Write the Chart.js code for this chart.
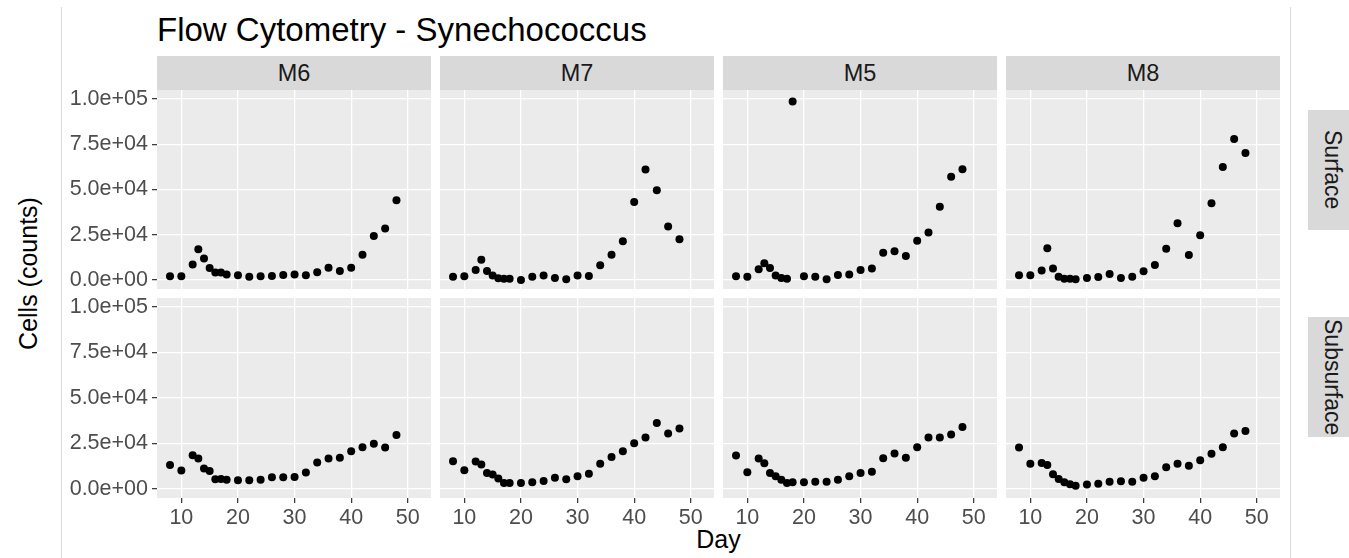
<!DOCTYPE html>
<html>
<head>
<meta charset="utf-8">
<title>Flow Cytometry - Synechococcus</title>
<script src="https://cdn.jsdelivr.net/npm/chart.js@4.4.0/dist/chart.umd.min.js"></script>
<style>
  body { margin: 0; width: 1349px; height: 558px; background: #fff; overflow: hidden; position: relative;
         font-family: "Liberation Sans", Arial, sans-serif; }
  .vline { position: absolute; top: 7px; bottom: 0; width: 1px; background: #dadada; }
  .strip { position: absolute; background: #d9d9d9; color: #1a1a1a; font-size: 23.5px;
           display: flex; align-items: center; justify-content: center; }
  .strip.side { writing-mode: vertical-rl; font-size: 23px; }
  .title { position: absolute; left: 157px; top: 13px; font-size: 33px; line-height: 33px; color: #000; white-space: nowrap; }
  .xlab { position: absolute; left: 157px; width: 1123px; top: 527px; text-align: center; font-size: 25px; line-height: 25px; }
  .ylab { position: absolute; left: -62px; width: 180px; top: 261px; text-align: center; font-size: 25px; line-height: 25px;
          transform: rotate(-90deg); }
  .panel { position: absolute; }
</style>
</head>
<body>
<div class="vline" style="left:61px"></div>
<div class="vline" style="left:1290px"></div>
<div class="title">Flow Cytometry - Synechococcus</div>
<div class="xlab">Day</div>
<div class="ylab">Cells (counts)</div>

<script>
/*** Data ***/
const days = [8, 10, 12, 13, 14, 15, 16, 17, 18, 20, 22, 24, 26, 28, 30, 32, 34, 36, 38, 40, 42, 44, 46, 48];
const mesocosms = ['M6', 'M7', 'M5', 'M8'];
const depths = ['Surface', 'Subsurface'];

const surfaceM6 = [2000, 2000, 8500, 17000, 11800, 6600, 4100, 4100, 3000, 2600, 1800, 2000, 2200, 2800, 3000, 2600, 4200, 6800, 5000, 6800, 14000, 24300, 28400, 44000];
const surfaceM7 = [1800, 2000, 5500, 11200, 5000, 2400, 900, 700, 700, 0, 1800, 2400, 1100, 400, 2400, 2200, 8100, 14000, 21400, 43100, 61000, 49600, 29500, 22500];
const surfaceM5 = [2000, 1800, 5900, 9200, 6600, 2400, 1100, 700, 98700, 2000, 1800, 400, 2800, 3000, 5500, 6300, 15100, 15800, 13300, 21700, 26300, 40500, 57100, 61200];
const surfaceM8 = [2600, 2600, 5200, 17500, 6300, 1800, 600, 600, 400, 1100, 1700, 3300, 1100, 1800, 4800, 8300, 17300, 31300, 13800, 24700, 42400, 62400, 77900, 70200];

const subsurfaceM6 = [13200, 10100, 18500, 16700, 11200, 9900, 5300, 5500, 5100, 4800, 4800, 5000, 6400, 6400, 6600, 9000, 14500, 16700, 17100, 20700, 22900, 24800, 22800, 29700];
const subsurfaceM7 = [15200, 10300, 15100, 13400, 8800, 7900, 5700, 3300, 3300, 3300, 3700, 4400, 6100, 5300, 7000, 8300, 13800, 17600, 20700, 25100, 28300, 36200, 30500, 33200];
const subsurfaceM5 = [18400, 9200, 16700, 14100, 8800, 7000, 5000, 3300, 3700, 3700, 3900, 4000, 5000, 7000, 8800, 9400, 16900, 19500, 17100, 22900, 28300, 28300, 29900, 34000];
const subsurfaceM8 = [22800, 13800, 14300, 13200, 8100, 5500, 3700, 2600, 1700, 2400, 2900, 4000, 4200, 3900, 6100, 7000, 11900, 13800, 12700, 15800, 19300, 22900, 30500, 31900];

const xTicks = [10, 20, 30, 40, 50];
const yTicks = [0, 25000, 50000, 75000, 100000];
const yTickLabels = ['0.0e+00', '2.5e+04', '5.0e+04', '7.5e+04', '1.0e+05'];

const panelValues = [
    [surfaceM6, surfaceM7, surfaceM5, surfaceM8],
    [subsurfaceM6, subsurfaceM7, subsurfaceM5, subsurfaceM8]
];

/*** Layout ***/
const PANEL_X0 = 157, PANEL_STEP = 283, PANEL_W = 274;
const ROW_TOPS = [90, 298], PANEL_H = [199, 200];
const STRIP_TOP = 56, STRIP_H = 34;
const SIDE_STRIPS = [[110, 120], [317, 120]];
const Y_AXIS_W = 100, X_AXIS_H = 36;
const X_MIN = 5.7, X_MAX = 54.1, Y_MIN = -5000, Y_MAX = 105000;
const FONT = '"Liberation Sans", Arial, sans-serif';

const panelBg = {
    id: 'panelBg',
    beforeDraw(chart) {
        const { ctx, chartArea: a } = chart;
        ctx.save();
        ctx.fillStyle = '#ebebeb';
        ctx.fillRect(a.left, a.top, a.width, a.height);
        ctx.restore();
    }
};

// keep the axis box at a fixed size and drop the label overhang padding
function fixAxis(scale, size, horizontal) {
    if (horizontal) scale.height = size; else scale.width = size;
    scale.paddingTop = 0;
    scale.paddingBottom = 0;
    scale.paddingLeft = 0;
    scale.paddingRight = 0;
}

function addStrip(text, left, top, width, height, side) {
    const d = document.createElement('div');
    d.className = side ? 'strip side' : 'strip';
    d.style.left = left + 'px';
    d.style.top = top + 'px';
    d.style.width = width + 'px';
    d.style.height = height + 'px';
    d.textContent = text;
    document.body.appendChild(d);
}

function makePanel(col, row) {
    const left = PANEL_X0 + col * PANEL_STEP;
    const top = ROW_TOPS[row];
    const showY = col === 0;
    const showX = row === 1;
    const w = PANEL_W + (showY ? Y_AXIS_W : 0);
    const h = PANEL_H[row] + (showX ? X_AXIS_H : 0);

    const wrap = document.createElement('div');
    wrap.className = 'panel';
    wrap.style.left = (showY ? left - Y_AXIS_W : left) + 'px';
    wrap.style.top = top + 'px';
    wrap.style.width = w + 'px';
    wrap.style.height = h + 'px';
    const canvas = document.createElement('canvas');
    wrap.appendChild(canvas);
    document.body.appendChild(wrap);

    const values = panelValues[row][col];
    new Chart(canvas, {
        type: 'scatter',
        data: {
            datasets: [{
                label: mesocosms[col] + ' ' + depths[row],
                data: days.map((d, i) => ({ x: d, y: values[i] })),
                pointRadius: 4,
                pointBackgroundColor: '#000',
                pointBorderWidth: 0
            }]
        },
        options: {
            responsive: true,
            maintainAspectRatio: false,
            animation: false,
            layout: { padding: 0, autoPadding: false },
            plugins: { legend: { display: false }, tooltip: { enabled: false } },
            scales: {
                x: {
                    type: 'linear', min: X_MIN, max: X_MAX,
                    border: { display: false },
                    grid: { color: '#ffffff', lineWidth: 1.3, drawTicks: showX, tickLength: 5, tickColor: '#333333', tickWidth: 1.2 },
                    ticks: { display: showX, color: '#4d4d4d', font: { family: FONT, size: 21.5 }, padding: 2, maxRotation: 0 },
                    afterBuildTicks: s => { s.ticks = xTicks.map(v => ({ value: v })); },
                    afterFit: s => fixAxis(s, showX ? X_AXIS_H : 0, true)
                },
                y: {
                    type: 'linear', min: Y_MIN, max: Y_MAX,
                    border: { display: false },
                    grid: { color: '#ffffff', lineWidth: 1.3, drawTicks: showY, tickLength: 5, tickColor: '#333333', tickWidth: 1.2 },
                    ticks: { display: showY, color: '#4d4d4d', font: { family: FONT, size: 21.5 }, padding: 4,
                             callback: (v, i) => yTickLabels[i] },
                    afterBuildTicks: s => { s.ticks = yTicks.map(v => ({ value: v })); },
                    afterFit: s => fixAxis(s, showY ? Y_AXIS_W : 0, false)
                }
            }
        },
        plugins: [panelBg]
    });
}

function renderPage() {
    mesocosms.forEach((m, c) => addStrip(m, PANEL_X0 + c * PANEL_STEP, STRIP_TOP, PANEL_W, STRIP_H, false));
    depths.forEach((d, r) => addStrip(d, 1308, SIDE_STRIPS[r][0], 48, SIDE_STRIPS[r][1], true));
    for (let r = 0; r < depths.length; r++) {
        for (let c = 0; c < mesocosms.length; c++) makePanel(c, r);
    }
}

renderPage();
</script>
</body>
</html>
